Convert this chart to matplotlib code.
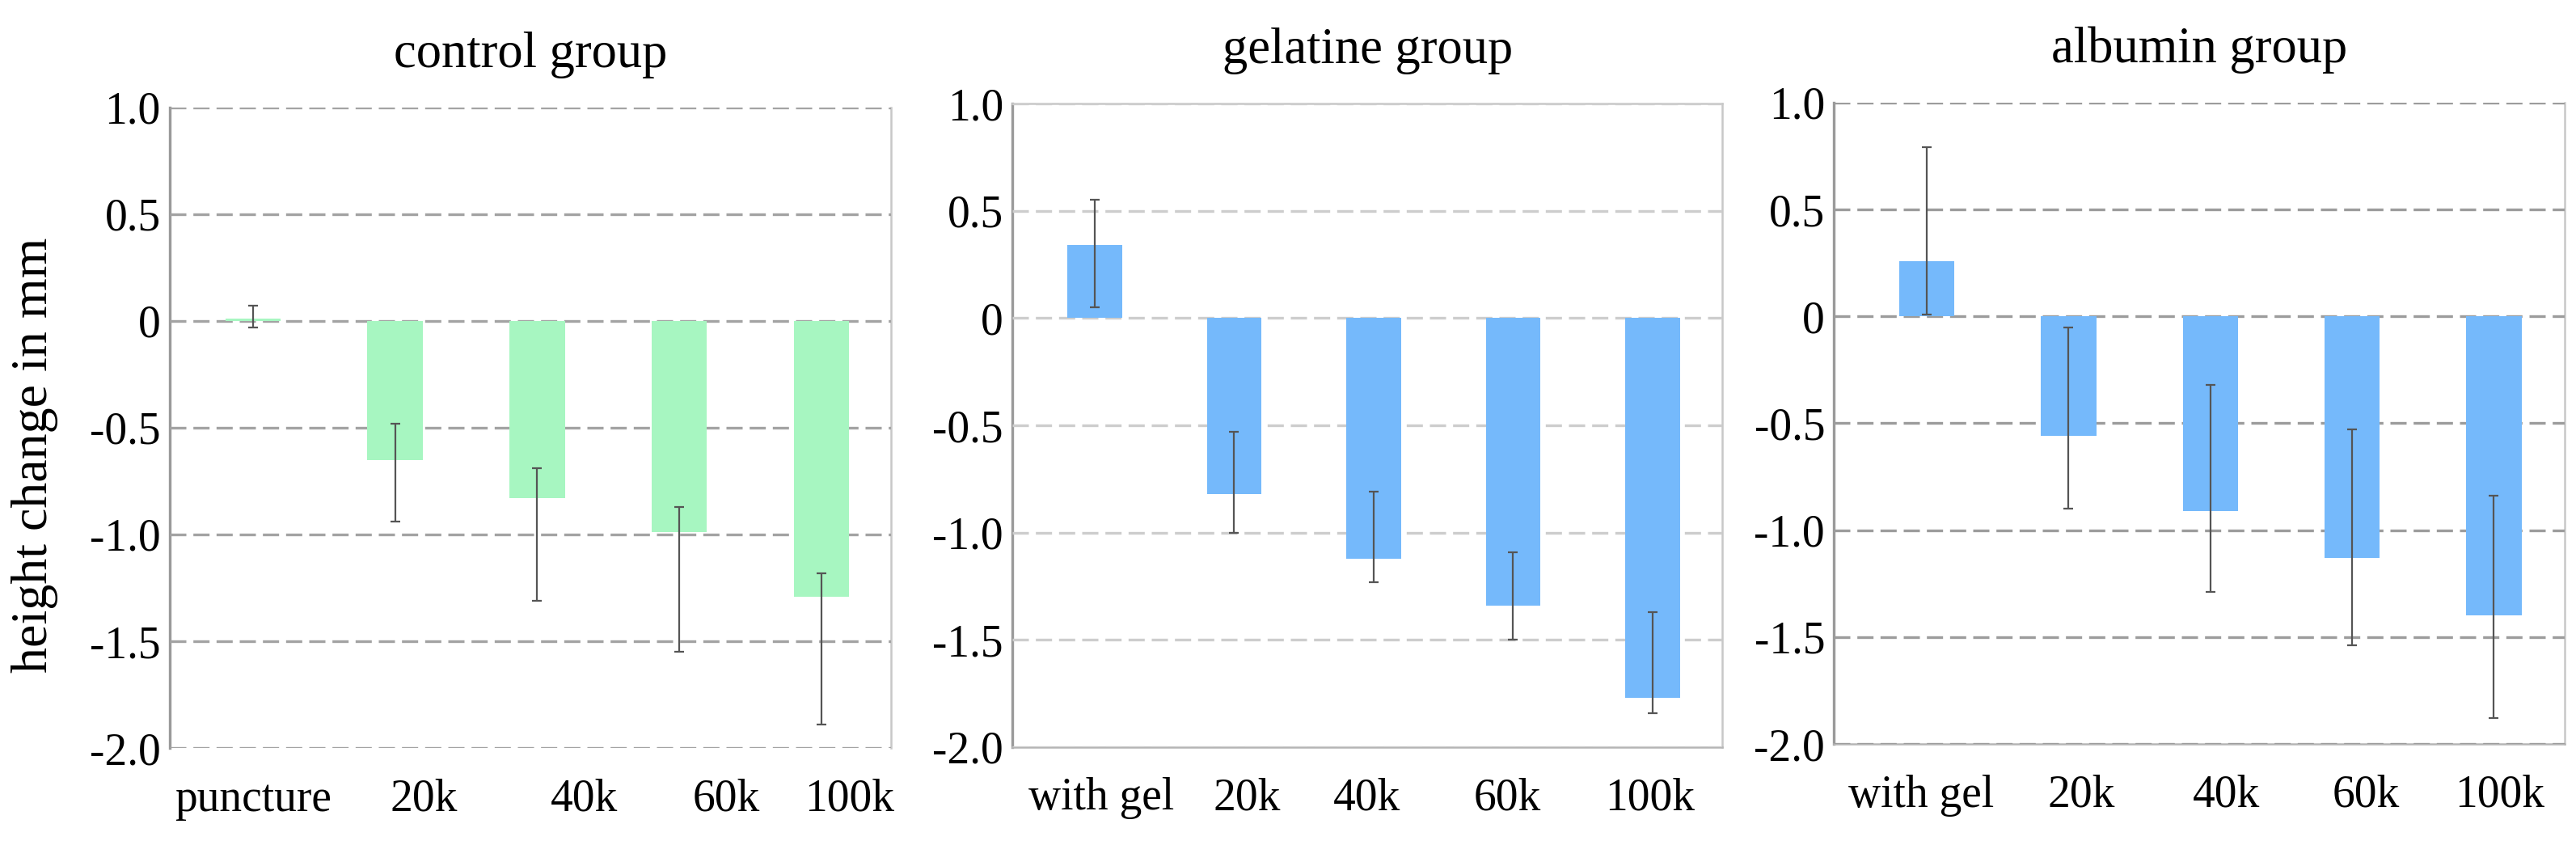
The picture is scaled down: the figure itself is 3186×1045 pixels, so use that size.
import matplotlib
matplotlib.use("Agg")
import matplotlib.pyplot as plt
import numpy as np

plt.rcParams['font.family'] = ['Liberation Serif', 'DejaVu Serif']

titles = ['control group', 'gelatine group', 'albumin group']
labels = [['puncture', '20k', '40k', '60k', '100k'],
          ['with gel', '20k', '40k', '60k', '100k'],
          ['with gel', '20k', '40k', '60k', '100k']]

# mean height change (mm)
control = [0.01, -0.65, -0.83, -0.99, -1.29]
gelatine = [0.34, -0.82, -1.12, -1.34, -1.77]
albumin = [0.26, -0.56, -0.91, -1.13, -1.40]

# error bar ends (top, bottom)
control_top = [0.07, -0.48, -0.69, -0.87, -1.18]
control_bot = [-0.03, -0.94, -1.31, -1.55, -1.89]
gelatine_top = [0.55, -0.53, -0.81, -1.09, -1.37]
gelatine_bot = [0.05, -1.00, -1.23, -1.50, -1.84]
albumin_top = [0.79, -0.05, -0.32, -0.53, -0.84]
albumin_bot = [0.01, -0.90, -1.29, -1.54, -1.88]

yticks = [1.0, 0.5, 0, -0.5, -1.0, -1.5, -2.0]
ytick_labels = ['1.0', '0.5', '0', '-0.5', '-1.0', '-1.5', '-2.0']

# x positions of the category labels (they do not sit exactly under the bars)
label_pos = [[0.0, 1.2, 2.33, 3.33, 4.2],
             [0.05, 1.09, 1.95, 2.96, 3.98],
             [-0.04, 1.09, 2.11, 3.1, 4.04]]

means = [control, gelatine, albumin]
tops = [control_top, gelatine_top, albumin_top]
bots = [control_bot, gelatine_bot, albumin_bot]
colors = ['#a7f6c1', '#75b9fb', '#75b9fb']
grid_colors = ['#a3a3a3', '#cdcdcd', '#9c9c9c']
rects = [[0.0659, 0.1148, 0.2800, 0.758],
         [0.393, 0.1158, 0.2756, 0.7617],
         [0.7119, 0.1196, 0.2837, 0.7589]]
xlims = [(-0.585, 4.49), (-0.59, 4.5), (-0.656, 4.5)]

fig = plt.figure(figsize=(31.86, 10.45), dpi=100)

for i in range(3):
    ax = fig.add_axes(rects[i])
    x = np.arange(5)
    m = np.array(means[i])
    err = [m - np.array(bots[i]), np.array(tops[i]) - m]
    ax.bar(x, m, width=0.39, color=colors[i], zorder=2)
    ax.errorbar(x, m, yerr=err, fmt='none', ecolor='#555555', elinewidth=1.6,
                capsize=4, capthick=1.6, zorder=3)
    ax.set_ylim(-2.0, 1.0)
    ax.set_xlim(*xlims[i])
    ax.set_yticks(yticks)
    ax.set_yticklabels(ytick_labels)
    ax.set_xticks(label_pos[i])
    ax.set_xticklabels(labels[i])
    ax.tick_params(axis='both', length=0, labelsize=40)
    ax.tick_params(axis='y', pad=8)
    ax.tick_params(axis='x', pad=27)
    ax.yaxis.grid(True, color=grid_colors[i], linewidth=2.4,
                  linestyle=(0, (6, 2.6)), zorder=1)
    ax.set_axisbelow(True)
    ax.set_title(titles[i], fontsize=45, pad=36)
    ax.spines['left'].set_color('#9a9a9a')
    ax.spines['left'].set_linewidth(2.4)
    ax.spines['right'].set_color('#c8c8c8')
    ax.spines['right'].set_linewidth(1.8)
    ax.spines['bottom'].set_color('#b5b5b5')
    ax.spines['bottom'].set_linewidth(1.8)
    ax.spines['top'].set_color('#c8c8c8')
    ax.spines['top'].set_linewidth(1.8)
    if i == 0:
        ax.spines['top'].set_visible(False)
        ax.spines['bottom'].set_visible(False)
        ax.set_ylabel('height change in mm', fontsize=46)
        ax.yaxis.set_label_coords(-0.155, 0.457)
    if i == 2:
        ax.spines['top'].set_visible(False)
    for s in ax.spines.values():
        s.set_zorder(0.5)

fig.savefig('out.png', dpi=100)
